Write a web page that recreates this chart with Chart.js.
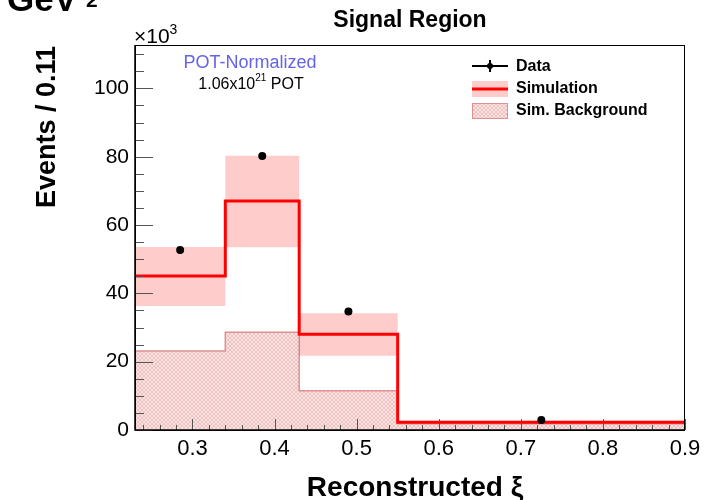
<!DOCTYPE html>
<html>
<head>
<meta charset="utf-8">
<script src="https://cdn.jsdelivr.net/npm/chart.js@4.4.1/dist/chart.umd.min.js"></script>
<style>
  html, body { margin: 0; padding: 0; background: #fff; }
  canvas { display: block; }
</style>
</head>
<body>
<canvas id="xiChart" width="720" height="500"></canvas>
<script>
// bin edges in reconstructed xi
const xEdges = [0.23, 0.34, 0.43, 0.55, 0.9];
const binCenters = [0.285, 0.385, 0.49, 0.725];

// event counts (x10^3) per bin
const dataCounts = [52.7, 80.2, 34.7, 2.9];
const simCounts = [45.1, 67.0, 28.0, 2.3];
const simBandHigh = [53.6, 80.3, 34.2, 2.7];
const simBandLow = [36.3, 53.5, 21.7, 1.9];
const bkgCounts = [23.1, 28.6, 11.5, 1.8];

// axis ticks
const xTicks = [0.3, 0.4, 0.5, 0.6, 0.7, 0.8, 0.9];
const yTicks = [0, 20, 40, 60, 80, 100];

const FONT = '"Liberation Sans", Arial, Helvetica, sans-serif';

// histogram as a stepped line: one point per left edge, plus the last edge
function toSteps(vals) {
    return xEdges.map((x, i) => ({ x: x, y: vals[Math.min(i, vals.length - 1)] }));
}

// fine pink cross-hatch for the background histogram
function makeHatch() {
    const c = document.createElement('canvas');
    c.width = 4; c.height = 4;
    const g = c.getContext('2d');
    g.fillStyle = '#f9e4e4';
    g.fillRect(0, 0, 4, 4);
    g.strokeStyle = 'rgba(230, 150, 150, 0.45)';
    g.lineWidth = 1;
    g.beginPath();
    g.moveTo(0, 4); g.lineTo(4, 0);
    g.moveTo(0, 0); g.lineTo(4, 4);
    g.stroke();
    return g.createPattern(c, 'repeat');
}
const hatch = makeHatch();

// frame, inside ticks, titles, labels and legend
const rootStyle = {
    id: 'rootStyle',
    afterDraw(chart) {
        const ctx = chart.ctx;
        const a = chart.chartArea;
        const xs = chart.scales.x;
        const ys = chart.scales.y;
        ctx.save();

        // frame
        ctx.strokeStyle = '#000';
        ctx.lineWidth = 1;
        ctx.strokeRect(a.left + 0.5, a.top + 0.5, a.right - a.left - 1, a.bottom - a.top);

        // y ticks (major every 20, minor every 5)
        ctx.strokeStyle = '#555';
        ctx.beginPath();
        for (let v = 0; v <= ys.max; v += 5) {
            const y = Math.round(ys.getPixelForValue(v)) + 0.5;
            const len = (v % 20 === 0) ? 18 : 9;
            ctx.moveTo(a.left, y);
            ctx.lineTo(a.left + len, y);
        }
        // x ticks (major every 0.1, minor every 0.02)
        for (let k = 12; k <= 45; k++) {
            const v = k / 50;
            if (v < xs.min - 1e-9 || v > xs.max + 1e-9) continue;
            const x = Math.round(xs.getPixelForValue(v)) + 0.5;
            const len = (k % 5 === 0) ? 11 : 5;
            ctx.moveTo(x, a.bottom);
            ctx.lineTo(x, a.bottom - len);
        }
        ctx.stroke();

        // axis lines
        ctx.strokeStyle = '#000';
        ctx.lineWidth = 1.5;
        ctx.beginPath();
        ctx.moveTo(a.left, a.top);
        ctx.lineTo(a.left, a.bottom);
        ctx.lineTo(a.right, a.bottom);
        ctx.stroke();

        ctx.fillStyle = '#000';
        ctx.textBaseline = 'alphabetic';

        // clipped unit label in the corner
        ctx.font = 'bold 35px ' + FONT;
        ctx.textAlign = 'left';
        const pre = '1 ';
        const preW = ctx.measureText(pre).width;
        ctx.fillText(pre + 'GeV', 7 - preW, 11);
        const gevW = ctx.measureText('GeV').width;
        ctx.font = 'bold 21px ' + FONT;
        ctx.fillText('2', 7 + gevW + 9, 7);

        // title
        ctx.font = 'bold 23px ' + FONT;
        ctx.textAlign = 'center';
        ctx.fillText('Signal Region', 410, 27);

        // axis titles
        ctx.font = 'bold 28px ' + FONT;
        ctx.fillText('Reconstructed \u03BE', 415, 496);
        ctx.save();
        ctx.translate(55, 127);
        ctx.rotate(-Math.PI / 2);
        ctx.font = 'bold 27px ' + FONT;
        ctx.fillText('Events / 0.11', 0, 0);
        ctx.restore();

        // exponent of the y axis
        ctx.textAlign = 'left';
        ctx.font = '21px ' + FONT;
        ctx.fillText('\u00D710', 134, 43);
        const expX = 134 + ctx.measureText('\u00D710').width;
        ctx.font = '14px ' + FONT;
        ctx.fillText('3', expX, 34);

        // exposure note
        ctx.textAlign = 'center';
        ctx.font = '18px ' + FONT;
        ctx.fillStyle = '#6464e6';
        ctx.fillText('POT-Normalized', 250, 68);
        ctx.fillStyle = '#000';
        ctx.textAlign = 'left';
        const p1 = '1.06x10', p2 = '21', p3 = ' POT';
        ctx.font = '16px ' + FONT;
        const w1 = ctx.measureText(p1).width, w3 = ctx.measureText(p3).width;
        ctx.font = '10px ' + FONT;
        const w2 = ctx.measureText(p2).width;
        let px = 251 - (w1 + w2 + w3) / 2;
        ctx.font = '16px ' + FONT;
        ctx.fillText(p1, px, 89);
        px += w1;
        ctx.font = '10px ' + FONT;
        ctx.fillText(p2, px, 81);
        px += w2;
        ctx.font = '16px ' + FONT;
        ctx.fillText(p3, px, 89);

        // legend
        const lx0 = 472, lx1 = 508, tx = 516;
        ctx.font = 'bold 16px ' + FONT;
        ctx.textBaseline = 'middle';
        // data entry
        ctx.strokeStyle = '#000';
        ctx.lineWidth = 2;
        ctx.beginPath();
        ctx.moveTo(lx0, 66); ctx.lineTo(lx1, 66);
        ctx.moveTo(490, 60); ctx.lineTo(490, 72);
        ctx.stroke();
        ctx.beginPath();
        ctx.arc(490, 66, 3, 0, Math.PI * 2);
        ctx.fill();
        ctx.fillText('Data', tx, 67);
        // simulation entry
        ctx.fillStyle = 'rgba(255, 0, 0, 0.2)';
        ctx.fillRect(lx0, 81, lx1 - lx0, 16);
        ctx.strokeStyle = '#ff0000';
        ctx.lineWidth = 3;
        ctx.beginPath();
        ctx.moveTo(lx0, 89); ctx.lineTo(lx1, 89);
        ctx.stroke();
        ctx.fillStyle = '#000';
        ctx.fillText('Simulation', tx, 89);
        // background entry
        ctx.fillStyle = hatch;
        ctx.fillRect(lx0, 103, lx1 - lx0, 16);
        ctx.strokeStyle = '#e09090';
        ctx.lineWidth = 1;
        ctx.strokeRect(lx0 + 0.5, 103.5, lx1 - lx0 - 1, 15);
        ctx.fillStyle = '#000';
        ctx.fillText('Sim. Background', tx, 111);

        ctx.restore();
    }
};

const ctx = document.getElementById('xiChart').getContext('2d');
new Chart(ctx, {
    type: 'line',
    data: {
        datasets: [
            {
                label: 'Data',
                data: binCenters.map((x, i) => ({ x: x, y: dataCounts[i] })),
                showLine: false,
                pointRadius: 4,
                pointBackgroundColor: '#000',
                pointBorderColor: '#000',
                pointBorderWidth: 0,
            },
            {
                label: 'Simulation',
                data: toSteps(simCounts),
                stepped: 'before',
                borderColor: '#ff0000',
                borderWidth: 3,
                pointRadius: 0,
                fill: false,
            },
            {
                label: 'Simulation band',
                data: toSteps(simBandHigh),
                stepped: 'before',
                borderWidth: 0,
                borderColor: 'rgba(0,0,0,0)',
                backgroundColor: 'rgba(255, 0, 0, 0.2)',
                pointRadius: 0,
                fill: '+1',
            },
            {
                label: 'Simulation band low',
                data: toSteps(simBandLow),
                stepped: 'before',
                borderWidth: 0,
                borderColor: 'rgba(0,0,0,0)',
                pointRadius: 0,
                fill: false,
            },
            {
                label: 'Sim. Background',
                data: toSteps(bkgCounts),
                stepped: 'before',
                borderColor: '#e09090',
                borderWidth: 1.5,
                backgroundColor: hatch,
                pointRadius: 0,
                fill: 'origin',
            },
        ],
    },
    options: {
        responsive: false,
        animation: false,
        devicePixelRatio: 1,
        layout: { padding: { top: 45, right: 35, left: 0, bottom: 0 } },
        plugins: {
            legend: { display: false },
            tooltip: { enabled: false },
        },
        scales: {
            x: {
                type: 'linear',
                min: 0.23,
                max: 0.9,
                grid: { display: false, drawTicks: false },
                border: { display: false },
                afterBuildTicks: (s) => { s.ticks = xTicks.map(v => ({ value: v })); },
                afterFit: (s) => { s.height = 70; },
                ticks: {
                    color: '#000',
                    padding: 6,
                    maxRotation: 0,
                    font: { family: FONT, size: 22 },
                    callback: (v) => v.toFixed(1),
                },
            },
            y: {
                type: 'linear',
                min: 0,
                max: 112.7,
                grid: { display: false, drawTicks: false },
                border: { display: false },
                afterBuildTicks: (s) => { s.ticks = yTicks.map(v => ({ value: v })); },
                afterFit: (s) => { s.width = 135; },
                ticks: {
                    color: '#000',
                    padding: 6,
                    font: { family: FONT, size: 21 },
                    callback: (v) => String(v),
                },
            },
        },
    },
    plugins: [rootStyle],
});
</script>
</body>
</html>
